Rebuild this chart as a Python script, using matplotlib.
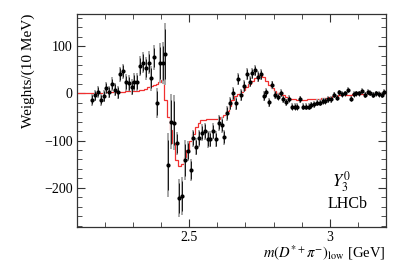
import numpy as np
import matplotlib.pyplot as plt
from matplotlib.ticker import MultipleLocator

plt.rcParams['font.family'] = ['Liberation Serif', 'DejaVu Serif']
plt.rcParams['mathtext.fontset'] = 'stix'

# binning: 10 MeV bins
bin_lo, bin_hi, bin_w = 2.10, 3.20, 0.01
data_first = 2.155

# weighted data, one value per bin starting at 2.155
weights = [
    -14, -4, 3, -14, -6, 11, 3, 20, 8, 2,
    40, 47, 23, 21, 13, 24, 24, 58, 65, 53,
    65, 32, 76, -21, 64, 64, 83, -152, -60, -62,
    -106, -222, -218, -141, -122, -162, -95, -113, -95, -83,
    -80, -97, -97, -80, -97, -62, -67, -93, -42, -21,
    0, -21, 30, -4, 15, 41, 25, 42, 49, 35,
    40, -6, 2, -19, 18, -3, -7, 1, -13, -19,
    -11, -28, -28, -28, -13, -28, -28, -28, -25, -23,
    -20, -20, -16, -16, -13, -13, -3, -9, 2, -2,
    0, 7, -11, -2, 0, 0, 5, -3, 3, 1,
    -3, 0, -2, -3, 3,
]
errors = [
    12, 12, 12, 12, 13, 13, 13, 14, 14, 14,
    16, 16, 17, 17, 17, 18, 18,
    22, 22, 24, 24, 26, 26,
    32, 42, 44, 66,
    67, 58, 58, 25, 40, 40, 42, 22, 24,
    18, 18, 18, 18, 18, 18,
    17, 17, 17, 17, 17, 16, 16,
    14, 14, 14, 13, 13, 13, 12, 12, 12, 12, 12, 11,
    10, 10, 9, 9, 9, 8, 8, 8, 8, 8, 8, 8, 8, 8,
    7, 7, 7, 7, 7, 7, 7, 7, 7, 7,
    7, 6, 6, 6, 6, 6, 6, 6, 6, 6,
    6, 6, 6, 6, 6, 6, 6, 6, 6, 6,
]

# fit model, one value per bin from 2.10 to 3.20
model = [
    0, 0, 0, 0, 0,
    0.3, 0.6, 0.9, 1.2, 1.5, 1.8, 2.1, 2.4, 2.7, 3,
    3.3, 3.6, 3.9, 4.2, 4.6, 5, 6, 7, 8, 10,
    13, 15, 18, 20, 23, 28, -14, -50, -78, -106,
    -141, -154, -150, -134, -120, -100, -86, -72, -62, -57,
    -56, -55, -55, -55, -55, -54, -50, -45, -38, -27,
    -15, -5, -1, 3, 8, 14, 20, 27, 33, 37,
    39, 34, 27, 18, 11, 5, 1, -1, -4, -7,
    -10, -12, -13, -14, -14, -14, -13.5, -13, -13, -12,
    -12, -11, -10, -9, -8, -7, -6, -5, -4.5, -4,
    -3.5, -3, -2.5, -2, -2, -1.5, -1.5, -1, -1, -1,
    -0.5, -0.5, 0, 0, 0,
]

edges = np.round(np.arange(len(model) + 1) * bin_w + bin_lo, 3)
x = np.round(data_first + np.arange(len(weights)) * bin_w, 3)
weights = np.array(weights)
errors = np.array(errors)

fig = plt.figure(figsize=(4.07, 2.77), dpi=100)
ax = fig.add_axes([0.189, 0.1805, 0.759, 0.769])

ax.stairs(model, edges, color='#f03030', lw=0.9, zorder=2, baseline=None)
ax.errorbar(x, weights, yerr=errors, fmt='none', ecolor='#a8a8a8',
            elinewidth=1.4, zorder=3)
ax.errorbar(x, weights, yerr=errors * 0.8, fmt='o', color='black',
            ms=2.0, ecolor='black', elinewidth=0.6, zorder=4)

ax.set_xlim(bin_lo, bin_hi)
ax.set_ylim(-283, 168)

ax.xaxis.set_major_locator(MultipleLocator(0.5))
ax.xaxis.set_minor_locator(MultipleLocator(0.1))
ax.yaxis.set_major_locator(MultipleLocator(100))
ax.yaxis.set_minor_locator(MultipleLocator(20))
ax.xaxis.set_major_formatter(plt.FuncFormatter(lambda v, p: f'{v:g}'))
ax.yaxis.set_major_formatter(plt.FuncFormatter(lambda v, p: f'{v:g}'.replace('-', '\u2212')))
ax.tick_params(which='both', direction='in', top=True, right=True,
               labelsize=10, color='#333333', pad=3)
ax.tick_params(which='major', length=6, width=0.8)
ax.tick_params(which='minor', length=3.5, width=0.6)
for s in ax.spines.values():
    s.set_linewidth(0.9)
    s.set_color('#333333')

ax.set_ylabel('Weights/(10 MeV)', fontsize=11, loc='top')
ax.yaxis.set_label_coords(-0.135, 1.0)
ax.set_xlabel(r'$m(D^{*+}\pi^{-})_{\rm low}$ [GeV]', fontsize=10.5, loc='right')
ax.xaxis.set_label_coords(1.0, -0.075)

ax.text(0.825, 0.19, r'$Y^{\mathit{0}}_{\mathit{3}}$', transform=ax.transAxes,
        fontsize=12, ha='left', va='baseline')
ax.text(0.81, 0.09, 'LHCb', transform=ax.transAxes, fontsize=11.5,
        ha='left', va='baseline')

fig.savefig('out.png', dpi=100)
